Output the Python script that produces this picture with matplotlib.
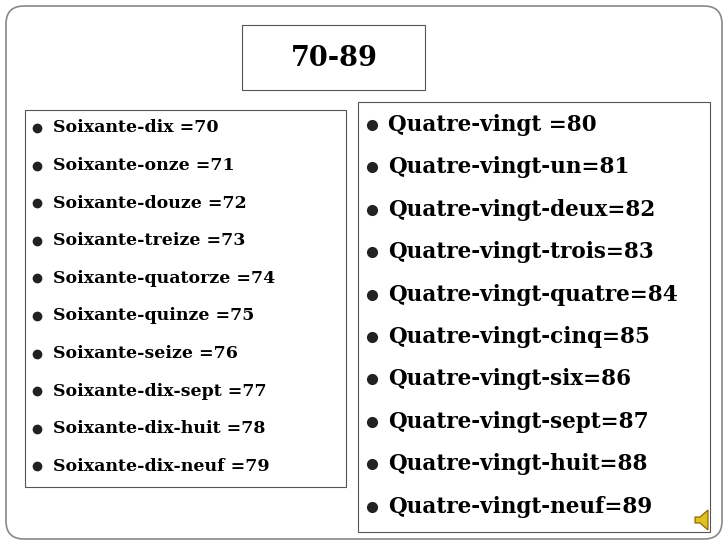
import matplotlib
matplotlib.use("Agg")
import matplotlib.pyplot as plt
from matplotlib.patches import Rectangle, FancyBboxPatch, Polygon

title = "70-89"
left_items = ["Soixante-dix =70", "Soixante-onze =71", "Soixante-douze =72", "Soixante-treize =73",
              "Soixante-quatorze =74", "Soixante-quinze =75", "Soixante-seize =76",
              "Soixante-dix-sept =77", "Soixante-dix-huit =78", "Soixante-dix-neuf =79"]
right_items = ["Quatre-vingt =80", "Quatre-vingt-un=81", "Quatre-vingt-deux=82", "Quatre-vingt-trois=83",
               "Quatre-vingt-quatre=84", "Quatre-vingt-cinq=85", "Quatre-vingt-six=86",
               "Quatre-vingt-sept=87", "Quatre-vingt-huit=88", "Quatre-vingt-neuf=89"]

fig = plt.figure(figsize=(7.28, 5.46), dpi=100)
ax = fig.add_axes([0, 0, 1, 1])
ax.set_xlim(0, 728); ax.set_ylim(546, 0); ax.axis("off")
font = "DejaVu Serif"

ax.add_patch(FancyBboxPatch((6, 6), 716, 533, boxstyle="round,pad=0,rounding_size=18",
                            fill=False, ec="#888888", lw=1.2))
ax.add_patch(Rectangle((242, 25), 183, 65, fill=False, ec="#555555", lw=0.8))
ax.text(334, 58, title, ha="center", va="center", fontsize=19.5, fontweight="bold", family=font)
ax.add_patch(Rectangle((25, 110), 321, 377, fill=False, ec="#555555", lw=0.8))
ax.add_patch(Rectangle((358, 102), 352, 430, fill=False, ec="#555555", lw=0.8))

for i, t in enumerate(left_items):
    y = 128 + i * 37.6
    ax.plot(37, y, "o", ms=6, color="#222222")
    ax.text(53, y, t, ha="left", va="center", fontsize=12.5, fontweight="bold", family=font)
for i, t in enumerate(right_items):
    y = 125 + i * 42.4
    ax.plot(372, y, "o", ms=7, color="#222222")
    ax.text(388, y, t, ha="left", va="center", fontsize=15.5, fontweight="bold", family=font)

ax.add_patch(Polygon([(695, 517), (700, 517), (708, 510), (708, 530), (700, 523), (695, 523)],
                     closed=True, fc="#e0c020", ec="#806000", lw=0.8))
plt.savefig("out.png", dpi=100)
